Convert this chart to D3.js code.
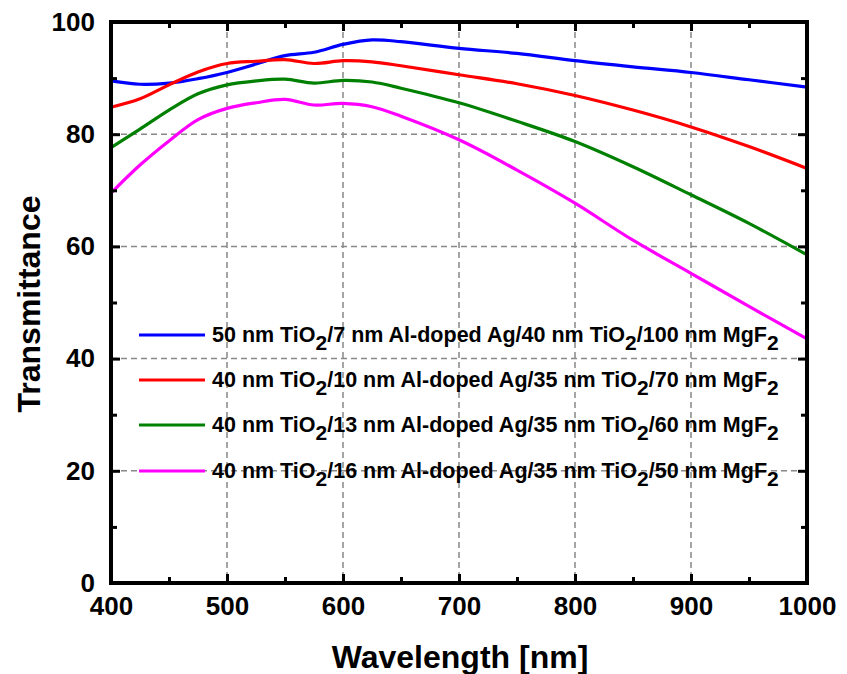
<!DOCTYPE html>
<html>
<head>
<meta charset="utf-8">
<script src="https://cdn.jsdelivr.net/npm/d3@7/dist/d3.min.js"></script>
<style>
  body { margin: 0; background: #fff; }
  text { font-family: "Liberation Sans", Arial, sans-serif; font-weight: bold; }
</style>
</head>
<body>
<div id="chart"></div>
<script>
// wavelength samples (nm)
var wavelength = [400, 425, 450, 475, 500, 525, 550, 575, 600, 625, 650, 700, 750, 800, 850, 900, 950, 1000];

// transmittance (%)
var blueT    = [89.5, 88.9, 89.1, 89.9, 91.0, 92.5, 94.0, 94.6, 96.0, 96.8, 96.5, 95.3, 94.4, 93.1, 92.0, 91.0, 89.7, 88.4];
var redT     = [84.8, 86.3, 88.8, 91.1, 92.6, 93.0, 93.3, 92.6, 93.1, 92.9, 92.2, 90.6, 89.0, 86.9, 84.3, 81.3, 77.8, 73.9];
var greenT   = [77.6, 80.9, 84.3, 87.2, 88.8, 89.5, 89.8, 89.1, 89.6, 89.3, 88.2, 85.6, 82.3, 78.7, 74.2, 69.2, 64.1, 58.5];
var magentaT = [69.5, 74.5, 78.8, 82.6, 84.6, 85.6, 86.2, 85.2, 85.5, 84.9, 83.2, 79.0, 73.6, 67.7, 61.1, 55.2, 49.3, 43.5];

var xTicks = [400, 500, 600, 700, 800, 900, 1000];
var yTicks = [0, 20, 40, 60, 80, 100];

// legend pieces: [text, subscript] pairs
var legendParts = [
  [["50 nm TiO", "2"], ["/7 nm Al-doped Ag/40 nm TiO", "2"], ["/100 nm MgF", "2"]],
  [["40 nm TiO", "2"], ["/10 nm Al-doped Ag/35 nm TiO", "2"], ["/70 nm MgF", "2"]],
  [["40 nm TiO", "2"], ["/13 nm Al-doped Ag/35 nm TiO", "2"], ["/60 nm MgF", "2"]],
  [["40 nm TiO", "2"], ["/16 nm Al-doped Ag/35 nm TiO", "2"], ["/50 nm MgF", "2"]]
];
var colors = ["#0000ff", "#ff0000", "#008000", "#ff00ff"];

var series = [blueT, redT, greenT, magentaT].map(function(vals) {
  return vals.map(function(v, i) { return {w: wavelength[i], t: v}; });
});

var margin = {top: 22, right: 40, bottom: 91, left: 111};
var W = 847, H = 674;
var width = W - margin.left - margin.right;
var height = H - margin.top - margin.bottom;

var svg = d3.select("#chart").append("svg")
    .attr("width", W)
    .attr("height", H);

var g = svg.append("g")
    .attr("transform", "translate(" + margin.left + "," + margin.top + ")");

var x = d3.scaleLinear().domain([400, 1000]).range([0, width]);
var y = d3.scaleLinear().domain([0, 100]).range([height, 0]);

// grid
g.selectAll(".vgrid").data([500, 600, 700, 800, 900]).enter().append("line")
    .attr("x1", function(d) { return x(d); }).attr("x2", function(d) { return x(d); })
    .attr("y1", 0).attr("y2", height)
    .attr("stroke", "#888").attr("stroke-width", 1.5).attr("stroke-dasharray", "6,4");
g.selectAll(".hgrid").data([20, 40, 60, 80]).enter().append("line")
    .attr("y1", function(d) { return y(d); }).attr("y2", function(d) { return y(d); })
    .attr("x1", 0).attr("x2", width)
    .attr("stroke", "#888").attr("stroke-width", 1.5).attr("stroke-dasharray", "6,4");

// lines
var line = d3.line()
    .x(function(d) { return x(d.w); })
    .y(function(d) { return y(d.t); })
    .curve(d3.curveCatmullRom.alpha(0.5));

series.forEach(function(s, i) {
  g.append("path")
      .datum(s)
      .attr("fill", "none")
      .attr("stroke", colors[i])
      .attr("stroke-width", 3.2)
      .attr("d", line);
});

// axes with inward ticks, mirrored on top/right
function styleAxis(sel) {
  sel.select(".domain").remove();
  sel.selectAll("line").attr("stroke", "#000").attr("stroke-width", 3);
  sel.selectAll("text").style("font-size", "26px").attr("fill", "#000");
}

var xMinor = d3.range(450, 1000, 100);
var yMinor = d3.range(10, 100, 20);

g.append("g").attr("transform", "translate(0," + height + ")")
    .call(d3.axisBottom(x).tickValues(xTicks).tickSize(-9).tickPadding(14).tickFormat(d3.format("d")))
    .call(styleAxis);
g.append("g").attr("transform", "translate(0," + height + ")")
    .call(d3.axisBottom(x).tickValues(xMinor).tickSize(-6).tickFormat(""))
    .call(styleAxis);
g.append("g")
    .call(d3.axisTop(x).tickValues(xTicks).tickSize(-9).tickFormat(""))
    .call(styleAxis);
g.append("g")
    .call(d3.axisTop(x).tickValues(xMinor).tickSize(-6).tickFormat(""))
    .call(styleAxis);

g.append("g")
    .call(d3.axisLeft(y).tickValues(yTicks).tickSize(-9).tickPadding(16))
    .call(styleAxis);
g.append("g")
    .call(d3.axisLeft(y).tickValues(yMinor).tickSize(-6).tickFormat(""))
    .call(styleAxis);
g.append("g").attr("transform", "translate(" + width + ",0)")
    .call(d3.axisRight(y).tickValues(yTicks).tickSize(-9).tickFormat(""))
    .call(styleAxis);
g.append("g").attr("transform", "translate(" + width + ",0)")
    .call(d3.axisRight(y).tickValues(yMinor).tickSize(-6).tickFormat(""))
    .call(styleAxis);

// frame
g.append("rect")
    .attr("width", width).attr("height", height)
    .attr("fill", "none").attr("stroke", "#000").attr("stroke-width", 4);

// axis titles
svg.append("text")
    .attr("x", margin.left + width / 2 + 1).attr("y", 668)
    .attr("text-anchor", "middle")
    .style("font-size", "32px")
    .text("Wavelength [nm]");
svg.append("text")
    .attr("transform", "translate(40," + (margin.top + 282) + ") rotate(-90)")
    .attr("text-anchor", "middle")
    .style("font-size", "32px")
    .text("Transmittance");

// legend
var legendY = [335, 380, 425, 471];
legendParts.forEach(function(parts, i) {
  var ly = legendY[i];
  svg.append("line")
      .attr("x1", 139).attr("x2", 205)
      .attr("y1", ly).attr("y2", ly)
      .attr("stroke", colors[i]).attr("stroke-width", 3.2);
  var t = svg.append("text")
      .attr("x", 212).attr("y", ly + 7)
      .style("font-size", "21.5px");
  parts.forEach(function(p) {
    t.append("tspan").attr("y", ly + 7).text(p[0]);
    t.append("tspan").attr("y", ly + 15).style("font-size", "21px").text(p[1]);
  });
});
</script>
</body>
</html>
